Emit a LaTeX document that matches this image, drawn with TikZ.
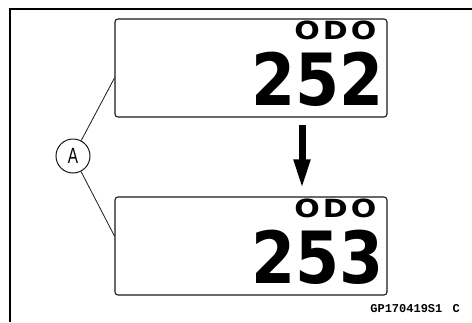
\documentclass[tikz,border=0pt]{standalone}
\usepackage{fontspec}
\newfontfamily\odofont{DejaVu Sans}
\newfontfamily\codefont{Liberation Mono}
\newfontfamily\tagfont{Liberation Sans}
\usetikzlibrary{arrows.meta, positioning}
\definecolor{DG}{RGB}{25,25,25}

\begin{document}
\begin{tikzpicture}[x=1pt, y=-1pt,
  panel/.style={draw=DG, line width=1.1pt, rounded corners=3pt,
                minimum width=272pt, minimum height=98pt},
  odo/.style={font=\odofont\bfseries\fontsize{25}{25}\selectfont,
              inner sep=0pt, anchor=base east},
  count/.style={font=\odofont\bfseries\fontsize{72}{72}\selectfont,
                inner sep=0pt, anchor=base east},
  arr/.style={-{Triangle[length=30pt, width=15pt]}, line width=7pt},
  lead/.style={draw=DG, line width=0.8pt}
]
\useasboundingbox (0,0) rectangle (472,322);

% frame
\draw[line width=2pt] (10,322) -- (10,9) -- (472,9);

% meter panels
\node[panel] (b1) at (251,68)  {};
\node[panel] (b2) at (251,246) {};

\node[odo]   (o1) at ([xshift=-11pt, yshift=-21pt]b1.north east)
  {\scalebox{1.2}[1]{O\kern2.5pt D\kern2.5pt O}};
\node[count] (n1) at ([xshift=-4pt, yshift=12pt]b1.south east)
  {\scalebox{0.88}[1]{252}};
\node[odo]   (o2) at ([xshift=-11pt, yshift=-21pt]b2.north east)
  {\scalebox{1.2}[1]{O\kern2.5pt D\kern2.5pt O}};
\node[count] (n2) at ([xshift=-4pt, yshift=12pt]b2.south east)
  {\scalebox{0.88}[1]{253}};

\draw[arr] ([xshift=51pt, yshift=-7pt]b1.south) -- ([xshift=51pt, yshift=7pt]b2.north);

% callout A
\node[circle, draw=DG, line width=1pt, minimum size=34pt, inner sep=0pt,
      font=\tagfont\fontsize{22}{22}\selectfont] (a) at (73,156)
  {\scalebox{0.7}[1]{A}};
\draw[lead] (a) -- ([yshift=-10pt]b1.west);
\draw[lead] (a) -- ([yshift=10pt]b2.west);

\node[font=\codefont\bfseries\fontsize{12}{12}\selectfont, inner sep=0pt,
      anchor=base east] (id) at (460,312) {GP170419S1\kern3pt\ C};
\end{tikzpicture}
\end{document}
